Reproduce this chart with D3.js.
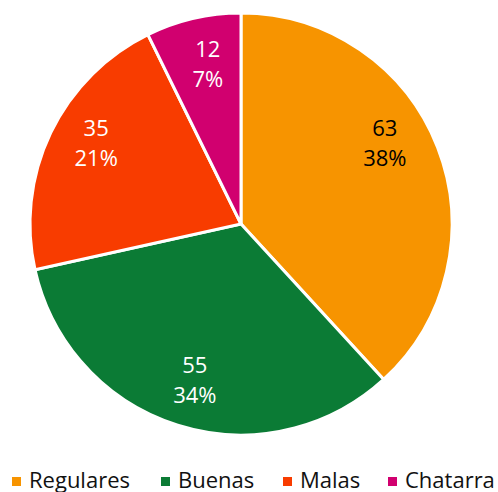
<!doctype html>
<html>
<head>
<meta charset="utf-8">
<script src="https://d3js.org/d3.v7.min.js"></script>
<style>
body { margin: 0; background: white; }
text { font-family: "Open Sans", "Noto Sans", sans-serif; }
</style>
</head>
<body>
<svg width="498" height="492" id="chart"></svg>
<script>
// data
var categories = ["Regulares", "Buenas", "Malas", "Chatarra"];
var values = [63, 55, 35, 12];
var percents = ["38%", "34%", "21%", "7%"];
var colors = ["#F79400", "#0B7B35", "#F83C00", "#D1006F"];
var labelColors = ["#000", "#fff", "#fff", "#fff"];

var svg = d3.select("#chart"),
    cx = 241, cy = 224, radius = 211;

var pie = d3.pie().sort(null).value(function(d) { return d; });
var arcs = pie(values);
var arc = d3.arc().innerRadius(0).outerRadius(radius);
var labelArc = d3.arc().innerRadius(164).outerRadius(164);

var g = svg.append("g").attr("transform", "translate(" + cx + "," + cy + ")");

g.selectAll("path")
  .data(arcs)
  .enter().append("path")
  .attr("d", arc)
  .style("fill", function(d, i) { return colors[i]; })
  .style("stroke", "#fff")
  .style("stroke-width", 3);

// excel-ish best fit: big first slice label sits a bit higher
var nudge = [[-9, -21], [3, 0], [3, -10], [4, 0]];

var lbl = g.selectAll("text.lbl")
  .data(arcs)
  .enter().append("text")
  .attr("class", "lbl")
  .attr("transform", function(d, i) {
    var c = labelArc.centroid(d);
    return "translate(" + (c[0] + nudge[i][0]) + "," + (c[1] + nudge[i][1]) + ")";
  })
  .attr("text-anchor", "middle")
  .style("font-size", "22px")
  .style("fill", function(d, i) { return labelColors[i]; });

lbl.append("tspan").attr("x", 0).attr("y", -7).text(function(d, i) { return values[i]; });
lbl.append("tspan").attr("x", 0).attr("y", 23).text(function(d, i) { return percents[i]; });

// legend
var legendX = [12, 161, 283, 388];
var leg = svg.selectAll("g.leg")
  .data(categories)
  .enter().append("g")
  .attr("class", "leg")
  .attr("transform", function(d, i) { return "translate(" + legendX[i] + ",0)"; });

leg.append("rect")
  .attr("x", 0).attr("y", 477)
  .attr("width", 9).attr("height", 9)
  .style("fill", function(d, i) { return colors[i]; });

leg.append("text")
  .attr("x", 17).attr("y", 488)
  .style("font-size", "22px")
  .style("fill", "#111")
  .text(function(d) { return d; });
</script>
</body>
</html>
